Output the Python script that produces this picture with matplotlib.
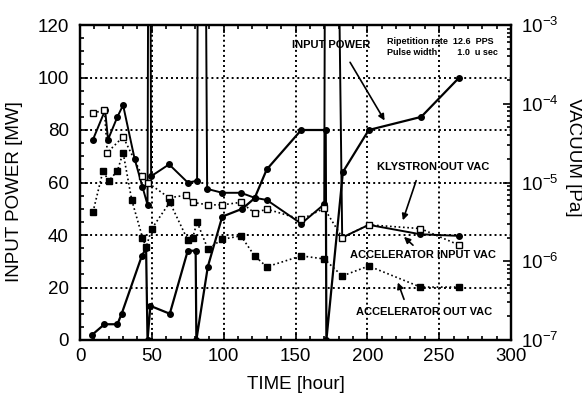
import matplotlib
matplotlib.use("Agg")
import matplotlib.pyplot as plt
from matplotlib.ticker import MultipleLocator, LogLocator, NullFormatter, FixedLocator, FixedFormatter

plt.rcParams['font.family'] = ['Liberation Sans', 'DejaVu Sans']
plt.rcParams['mathtext.fontset'] = 'custom'
plt.rcParams['mathtext.rm'] = 'Liberation Sans'
plt.rcParams['mathtext.default'] = 'regular'

OFF = 1e-2  # off-scale vacuum spikes (above 1e-3)

# input power [MW] vs time [hour]
power_t = [8.5, 17, 26, 29, 43, 46, 47, 49, 62.5, 75, 80.5, 81, 89, 99, 113, 121.5,
           130, 154, 171, 171.5, 183, 201, 237.5, 264]
power_mw = [2, 6, 6, 10, 32, 35, 0, 13, 10, 34, 34, 0, 28, 47, 50, 54,
            65, 80, 80, 0, 64, 80, 85, 100]

# accelerator input vacuum [Pa]
acc_in_t = [9, 17.5, 19.5, 26, 30, 38, 43.5, 47, 47.5, 49, 49.5, 62, 75, 81.5, 82,
            87.5, 88.5, 99, 112, 121.5, 130, 154, 170, 170.5, 180, 182.5, 201, 237, 264]
acc_in_v = [3.5e-5, 8.3e-5, 3.5e-5, 6.8e-5, 9.6e-5, 2.0e-5, 8.8e-6, 5.2e-6, OFF, OFF,
            1.2e-5, 1.7e-5, 1.0e-5, 1.05e-5, OFF, OFF, 8.3e-6, 7.4e-6, 7.4e-6, 6.4e-6,
            6.0e-6, 3.0e-6, 5.3e-6, OFF, OFF, 2.0e-6, 2.9e-6, 2.2e-6, 2.1e-6]

# klystron out vacuum [Pa]
kly_t = [9, 17, 19, 30, 43.5, 47, 62, 74, 78.5, 89, 99, 112, 121.5, 130, 154, 170,
         182.5, 201, 237, 264]
kly_v = [7.6e-5, 8.3e-5, 2.4e-5, 3.8e-5, 1.2e-5, 1.0e-5, 6.4e-6, 6.9e-6, 5.6e-6, 5.2e-6,
         5.2e-6, 5.6e-6, 4.1e-6, 4.6e-6, 3.4e-6, 4.7e-6, 2.0e-6, 2.9e-6, 2.6e-6, 1.6e-6]

# accelerator out vacuum [Pa]
acc_out_t = [9, 16, 20, 26, 30, 36, 43.5, 46, 50, 62.5, 75, 78.5, 81.5, 89, 99, 112,
             121.5, 130, 154, 170, 182.5, 201, 237, 264]
acc_out_v = [4.2e-6, 1.4e-5, 1.05e-5, 1.4e-5, 2.4e-5, 6.0e-6, 2.0e-6, 1.5e-6, 2.6e-6,
             5.6e-6, 1.86e-6, 2.0e-6, 3.15e-6, 1.43e-6, 1.9e-6, 2.1e-6, 1.17e-6, 8.5e-7,
             1.17e-6, 1.07e-6, 6.5e-7, 8.7e-7, 4.7e-7, 4.7e-7]

vac_ticks = [1e-7, 1e-6, 1e-5, 1e-4, 1e-3]
vac_labels = ['$10^{-7}$', '$10^{-6}$', '$10^{-5}$', '$10^{-4}$', '$10^{-3}$']

fig = plt.figure(figsize=(5.82, 3.95), dpi=100)
ax = fig.add_axes([80/582, 1-340/395, 431/582, 315/395])
ax2 = ax.twinx()

dot = (0, (1, 1.6))
ax.set_xlim(0, 300)
ax.set_ylim(0, 120)
for y in [20, 40, 60, 80, 100]:
    ax.axhline(y, color='black', lw=1.4, ls=dot, zorder=0)
for x in [50, 100, 150, 200, 250]:
    ax.axvline(x, color='black', lw=1.4, ls=dot, zorder=0)

ax.plot(power_t, power_mw, color='black', lw=1.6, marker='o', ms=4, zorder=5)

ax2.set_yscale('log')
ax2.set_ylim(1e-7, 1e-3)
ax2.plot(acc_in_t, acc_in_v, color='black', lw=1.4, marker='o', ms=4)
ax2.plot(kly_t, kly_v, color='black', lw=1.2, ls=dot, marker='s', ms=4,
         mfc='white', mec='black', mew=1.0)
ax2.plot(acc_out_t, acc_out_v, color='black', lw=1.2, ls=dot, marker='s', ms=4)

ax.xaxis.set_major_locator(MultipleLocator(50))
ax.xaxis.set_minor_locator(MultipleLocator(10))
ax.yaxis.set_major_locator(MultipleLocator(20))
ax.yaxis.set_minor_locator(MultipleLocator(5))
ax.tick_params(which='both', direction='in', top=True, labelsize=13.5, width=1.2)
ax.tick_params(which='major', length=6)
ax.tick_params(which='minor', length=3)
ax.tick_params(axis='x', pad=6)
ax.tick_params(axis='y', pad=8)

ax2.yaxis.set_major_locator(FixedLocator(vac_ticks))
ax2.yaxis.set_major_formatter(FixedFormatter(vac_labels))
ax2.yaxis.set_minor_locator(LogLocator(base=10, subs=range(2, 10)))
ax2.yaxis.set_minor_formatter(NullFormatter())
ax2.tick_params(which='both', direction='in', labelsize=13.5, width=1.2, pad=7)
ax2.tick_params(which='major', length=6)
ax2.tick_params(which='minor', length=3)

for a in (ax, ax2):
    for s in a.spines.values():
        s.set_linewidth(1.6)

ax.set_xlabel('TIME [hour]', fontsize=13.5, labelpad=8)
ax.set_ylabel('INPUT POWER [MW]', fontsize=13.5, va='center')
ax.yaxis.set_label_coords(-0.151, 0.47)
ax2.set_ylabel('VACUUM [Pa]', fontsize=13.5, rotation=270, va='center')
ax2.yaxis.set_label_coords(1.144, 0.58)

bold = dict(fontsize=8, fontweight='bold', ha='center', va='center')
arrow = dict(arrowstyle='-|>', color='black', lw=1.2, mutation_scale=9)
ax.text(174.7, 112.4, 'INPUT POWER', **bold)
ax.annotate('', xy=(213, 82.7), xytext=(187, 106.7), arrowprops=arrow)
ax.text(213.7, 113.6, 'Ripetition rate  12.6  PPS', fontsize=6.5, fontweight='bold',
        va='center')
ax.text(213.7, 109.4, 'Pulse width        1.0  u sec', fontsize=6.5, fontweight='bold',
        va='center')
ax.text(245.7, 65.9, 'KLYSTRON OUT VAC', **bold)
ax.annotate('', xy=(224.1, 44.6), xytext=(234.6, 61.7), arrowprops=arrow)
ax.text(238.7, 32.4, 'ACCELERATOR INPUT VAC', **bold)
ax.annotate('', xy=(224.1, 40), xytext=(233.2, 35.4), arrowprops=arrow)
ax.text(239.4, 10.7, 'ACCELERATOR OUT VAC', **bold)
ax.annotate('', xy=(220.6, 22.9), xytext=(226.2, 14.5), arrowprops=arrow)

fig.savefig('out.png', dpi=100)
